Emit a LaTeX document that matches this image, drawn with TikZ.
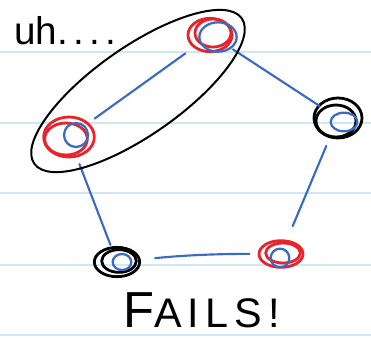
\documentclass[tikz,border=0pt]{standalone}
\usepackage{fontspec}
\setmainfont{Liberation Sans}
\definecolor{pen}{HTML}{3A6BC4}
\definecolor{inkred}{HTML}{E8232B}
\definecolor{rulec}{HTML}{CFE6F7}
\tikzset{
  vtx/.style={circle, minimum size=1pt, inner sep=0pt},
  edgeline/.style={pen, line width=1.6pt, line cap=round},
  ring/.style={line width=2.1pt},
  bluering/.style={pen, line width=1.7pt},
  ruleline/.style={rulec, line width=1.2pt},
  hand/.style={black, line width=1.5pt},
}
\begin{document}
\begin{tikzpicture}[x=0.75pt,y=-0.75pt, line cap=round, line join=round]
\useasboundingbox (0,0) rectangle (371,337);
\fill[white] (0,0) rectangle (371,337);
\foreach \yy in {52,123,193,265,335} \draw[ruleline] (0,\yy) -- (371,\yy);

% vertices
\node[vtx] (A) at (211,35) {};
\node[vtx] (L) at (69,137) {};
\node[vtx] (R) at (338,118) {};
\node[vtx] (BL) at (117,262) {};
\node[vtx] (BR) at (281,254) {};

% scribbles: top (red)
\draw[ring, inkred] (210,35) ellipse [x radius=16.5pt, y radius=12.5pt];
\draw[ring, inkred] (213,33) ellipse [x radius=13.5pt, y radius=10.5pt];
\draw[bluering] (218,37) ellipse [x radius=14pt, y radius=11pt];
% left (red)
\draw[ring, inkred] (69,137) ellipse [x radius=19pt, y radius=15pt];
\draw[ring, inkred] (66,139) ellipse [x radius=16pt, y radius=12pt];
\draw[bluering] (76,135) ellipse [x radius=9pt, y radius=9pt];
% right (black)
\draw[ring, black] (338,118) ellipse [x radius=18pt, y radius=15pt];
\draw[ring, black] (336,121) ellipse [x radius=15pt, y radius=12pt];
\draw[bluering] (344,122) ellipse [x radius=10pt, y radius=7pt];
% bottom-left (black)
\draw[ring, black] (117,262) ellipse [x radius=17pt, y radius=11pt];
\draw[ring, black] (119,261) ellipse [x radius=13pt, y radius=8.5pt];
\draw[bluering] (122,262) ellipse [x radius=7pt, y radius=6pt];
% bottom-right (red)
\draw[ring, inkred] (281,254) ellipse [x radius=16.5pt, y radius=10pt];
\draw[ring, inkred] (283,253) ellipse [x radius=13pt, y radius=7.5pt];
\draw[bluering] (280,258) ellipse [x radius=7pt, y radius=7pt];

% edges
\draw[edgeline, shorten <=23pt, shorten >=23pt] (A) -- (L);
\draw[edgeline, shorten <=19pt, shorten >=16pt] (A) -- (R);
\draw[edgeline, shorten <=22pt, shorten >=22pt] (R) -- (BR);
\draw[edgeline, shorten <=28pt, shorten >=23pt] (BL) to[bend left=3] (BR);
\draw[edgeline, shorten <=21pt, shorten >=13pt] (L) -- (BL);

% enclosing loop
\draw[hand, rotate around={35:(138,91)}] (138,91) ellipse [x radius=95pt, y radius=33pt];

% texts
\node[anchor=base west, inner sep=0pt] (uh) at (14,44) {\fontsize{29}{29}\selectfont uh\addfontfeatures{LetterSpace=14}....};
\node[anchor=base west, inner sep=0pt] (fails) at (123,327) {\fontsize{38}{38}\selectfont F\fontsize{31}{31}\selectfont\addfontfeatures{LetterSpace=15}AILS!};
\end{tikzpicture}
\end{document}
